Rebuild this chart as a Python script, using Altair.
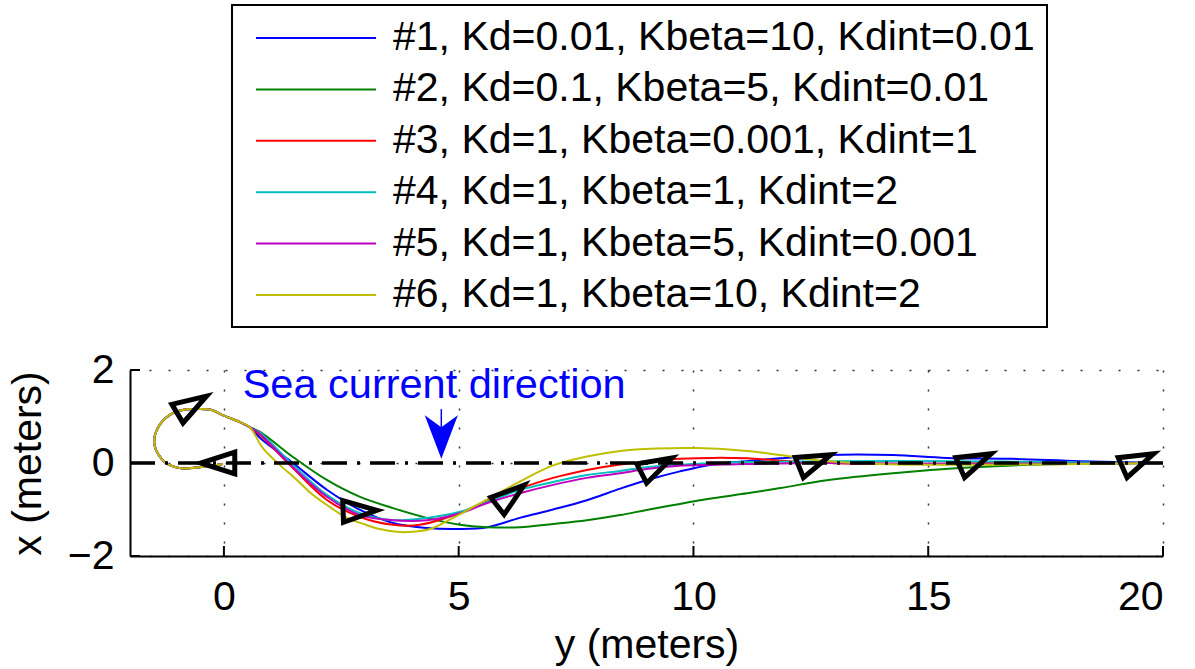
import altair as alt
import pandas as pd

FONT = "Liberation Sans"

labels = [
    "#1, Kd=0.01, Kbeta=10, Kdint=0.01",
    "#2, Kd=0.1, Kbeta=5, Kdint=0.01",
    "#3, Kd=1, Kbeta=0.001, Kdint=1",
    "#4, Kd=1, Kbeta=1, Kdint=2",
    "#5, Kd=1, Kbeta=5, Kdint=0.001",
    "#6, Kd=1, Kbeta=10, Kdint=2",
]
colors = ["#0000ff", "#008000", "#ff0000", "#00bfbf", "#bf00bf", "#bfbf00"]

# shared initial loop (y = horizontal, x = vertical)
loop_y = [-0.03, -0.52, -0.94, -1.26, -1.48, -1.41, -1.16, -0.88, -0.58, -0.26, -0.03, 0.34, 0.55]
loop_x = [-0.02, -0.09, -0.11, 0.02, 0.39, 0.75, 1.03, 1.14, 1.16, 1.14, 1.03, 0.88, 0.77]

s1_y = [0.77, 1.47, 2.20, 2.90, 3.60, 4.32, 5.03, 5.61, 6.30, 7.01, 7.73, 8.44, 9.00, 9.71, 10.41, 11.14, 11.85, 12.84, 14.25, 15.39, 16.80, 18.23, 20.0]
s1_x = [0.54, 0.00, -0.58, -1.01, -1.29, -1.40, -1.42, -1.38, -1.18, -1.00, -0.80, -0.55, -0.37, -0.18, -0.03, 0.04, 0.10, 0.17, 0.17, 0.11, 0.09, 0.04, 0.00]

s2_y = [0.77, 1.47, 2.20, 2.90, 3.60, 4.32, 5.03, 5.61, 6.30, 7.01, 7.73, 8.44, 9.00, 9.71, 10.41, 11.14, 11.85, 12.84, 14.25, 15.67, 17.17, 20.0]
s2_x = [0.67, 0.13, -0.37, -0.73, -0.97, -1.18, -1.33, -1.38, -1.38, -1.31, -1.23, -1.12, -1.01, -0.88, -0.76, -0.65, -0.54, -0.37, -0.22, -0.11, -0.04, 0.00]

s3_y = [0.77, 1.47, 2.20, 2.90, 3.60, 4.17, 4.88, 5.61, 6.30, 7.01, 7.73, 8.44, 9.00, 9.71, 10.41, 11.14, 11.85, 12.90, 14.40, 16.53, 20.0]
s3_x = [0.60, -0.11, -0.80, -1.16, -1.33, -1.33, -1.13, -0.82, -0.55, -0.32, -0.15, -0.03, 0.04, 0.09, 0.11, 0.10, 0.05, 0.00, -0.02, 0.00, 0.00]

s4_y = [0.77, 1.47, 2.20, 2.90, 3.60, 4.32, 5.03, 5.61, 6.30, 7.01, 7.73, 8.44, 9.00, 9.71, 10.41, 11.14, 12.90, 15.46, 17.60, 20.0]
s4_x = [0.65, -0.04, -0.69, -1.08, -1.23, -1.18, -1.05, -0.84, -0.58, -0.41, -0.26, -0.17, -0.09, -0.04, 0.00, 0.02, 0.04, 0.04, 0.02, 0.00]

s5_y = [0.77, 1.47, 2.20, 2.90, 3.60, 4.32, 5.03, 5.61, 6.30, 7.01, 7.73, 8.44, 9.00, 9.71, 10.41, 11.14, 12.90, 16.53, 20.0]
s5_x = [0.62, -0.09, -0.73, -1.12, -1.23, -1.23, -1.08, -0.86, -0.65, -0.47, -0.32, -0.22, -0.13, -0.06, -0.04, -0.02, 0.00, -0.02, 0.00]

s6_y = [0.83, 1.19, 1.56, 1.90, 2.26, 2.62, 2.97, 3.32, 3.68, 4.02, 4.39, 4.88, 5.61, 6.30, 7.01, 7.73, 8.44, 9.20, 10.10, 11.14, 11.85, 12.48, 13.08, 13.97, 16.10, 20.0]
s6_x = [0.32, -0.04, -0.37, -0.69, -0.95, -1.18, -1.31, -1.42, -1.48, -1.48, -1.42, -1.18, -0.78, -0.40, -0.05, 0.14, 0.26, 0.31, 0.32, 0.26, 0.17, 0.08, 0.02, -0.02, -0.04, 0.00]

# vehicle heading markers
tri_y = [-0.13, -0.68, 2.90, 6.11, 9.22, 12.59, 16.01, 19.47]
tri_x = [0.00, 1.25, -1.03, -0.70, -0.06, 0.04, 0.05, 0.05]
tri_angle = [180, 329, 358, 322, 333, 338, 336, 336]

# sea current arrow and annotation
arrow_y = [4.63]
arrow_x_top = [1.16]
arrow_x_head = [0.56]
arrow_x_neck = [0.75]
note_y = [0.40]
note_x = [1.40]
note_text = ["Sea current direction"]

xticks = [0, 5, 10, 15, 20]
yticks = [-2, 0, 2]

series_y = [s1_y, s2_y, s3_y, s4_y, s5_y, s6_y]
series_x = [s1_x, s2_x, s3_x, s4_x, s5_x, s6_x]

rows = []
for lab, sy, sx in zip(labels, series_y, series_x):
    ys = loop_y + sy
    xs = loop_x + sx
    for i, (a, b) in enumerate(zip(ys, xs)):
        rows.append({"s": lab, "i": i, "yy": a, "xx": b})
lines_df = pd.DataFrame(rows)

tri_df = pd.DataFrame({"yy": tri_y, "xx": tri_x, "ang": tri_angle})
arrow_df = pd.DataFrame({"yy": arrow_y, "xx": arrow_x_top, "xx2": arrow_x_neck, "xh": arrow_x_head})
note_df = pd.DataFrame({"yy": note_y, "xx": note_x, "t": note_text})
xt_df = pd.DataFrame({"yy": xticks})
yt_df = pd.DataFrame({"xx": yticks})

W, H = 1033, 186

xscale = alt.Scale(domain=[-2, 20], nice=False, zero=False)
yscale = alt.Scale(domain=[-2, 2], nice=False, zero=False)

X = alt.X("yy:Q", scale=xscale,
          axis=alt.Axis(values=xticks, title="y (meters)", labelPadding=21, titlePadding=8,
                        grid=True, ticks=False))
Y = alt.Y("xx:Q", scale=yscale,
          axis=alt.Axis(values=yticks, title="x (meters)", labelPadding=16, titlePadding=18,
                        grid=True, ticks=False))

lines = alt.Chart(lines_df).mark_line(strokeWidth=2, interpolate="catmull-rom").encode(
    x=X,
    y=Y,
    order=alt.Order("i:Q"),
    color=alt.Color(
        "s:N",
        scale=alt.Scale(domain=labels, range=colors),
        legend=alt.Legend(
            title=None, orient="none", legendX=102, legendY=-365,
            symbolType="M -3 0 L 3 0", symbolSize=1600, symbolStrokeWidth=2,
            labelFont=FONT, labelFontSize=41, labelColor="black", labelLimit=2000,
            padding=12, symbolOffset=51, labelOffset=56, rowPadding=10.4,
            strokeColor="black",
        ),
    ),
)

zero_line = alt.Chart(xt_df).mark_rule(color="black", strokeWidth=2.6, strokeDash=[25, 10, 3, 10]).encode(
    y=alt.datum(0)
)

tri = alt.Chart(tri_df).mark_point(
    shape="M 1 0 L -1 -0.64 L -1 0.64 Z", size=1150, filled=False,
    stroke="black", strokeWidth=5, strokeJoin="miter", opacity=1,
).encode(
    x="yy:Q", y="xx:Q", angle=alt.Angle("ang:Q", scale=None)
)

shaft = alt.Chart(arrow_df).mark_rule(color="#0000ff", strokeWidth=1.5).encode(
    x="yy:Q", y="xx:Q", y2="xx2:Q"
)
head = alt.Chart(arrow_df).mark_point(
    shape="M 0 1 L 0.76 -1 L 0 -0.45 L -0.76 -1 Z",
    size=1900, filled=True, color="#0000ff", opacity=1,
).encode(x="yy:Q", y="xh:Q")

note = alt.Chart(note_df).mark_text(
    align="left", baseline="alphabetic", font=FONT, fontSize=41.5, color="#0000ff"
).encode(x="yy:Q", y="xx:Q", text="t:N")

xtick_marks = alt.Chart(xt_df).mark_rule(color="black", strokeWidth=2).encode(
    x="yy:Q", y=alt.value(H), y2=alt.value(H - 10)
)
ytick_marks = alt.Chart(yt_df).mark_rule(color="black", strokeWidth=2).encode(
    y="xx:Q", x=alt.value(0), x2=alt.value(10)
)

chart = alt.layer(
    lines, zero_line, tri, shaft, head, note, xtick_marks, ytick_marks
).properties(
    width=W, height=H,
    autosize=alt.AutoSizeParams(type="none"),
    padding={"left": 130, "top": 370, "right": 32, "bottom": 113},
    background="white",
).configure_view(
    strokeWidth=0
).configure_axis(
    labelFont=FONT, labelFontSize=41, labelColor="black",
    titleFont=FONT, titleFontSize=41, titleFontWeight="normal", titleColor="black",
    domainColor="black", domainWidth=2,
    gridColor="black", gridDash=[2, 17], gridWidth=1.5, gridOpacity=0.8,
).configure_legend(
    strokeWidth=2
)

chart.save("out.html", embed_options={"renderer": "svg", "actions": False})
